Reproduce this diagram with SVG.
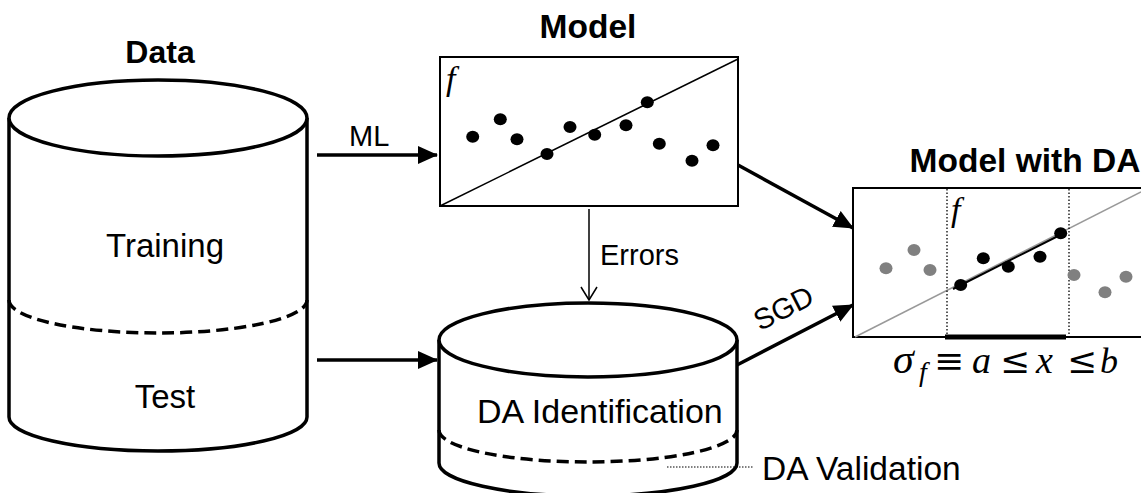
<svg xmlns="http://www.w3.org/2000/svg" width="1141" height="493" viewBox="0 0 1141 493">
  <style>
    .title { font-family: "Liberation Sans", Arial, sans-serif; font-weight: bold; font-size: 33.5px; fill: #000; text-anchor: middle; }
    .label { font-family: "Liberation Sans", Arial, sans-serif; font-size: 33px; fill: #000; }
    .small { font-family: "Liberation Sans", Arial, sans-serif; font-size: 29px; fill: #000; }
    .math { font-family: "Liberation Serif", "DejaVu Serif", serif; font-style: italic; font-size: 34px; fill: #000; }
    .mathop { font-family: "DejaVu Serif", serif; font-size: 36px; fill: #000; text-anchor: middle; }
    .cyl { fill: #fff; stroke: #000; stroke-width: 3.5; }
    .cut { fill: none; stroke: #000; stroke-width: 3.5; stroke-dasharray: 12 6; }
    .frame { fill: #fff; stroke: #000; stroke-width: 2; }
    .dot { fill: #000; }
    .dot-grey { fill: #808080; }
    .thick { fill: none; stroke: #000; stroke-width: 3.5; marker-end: url(#head); }
  </style>
  <defs>
    <marker id="head" markerUnits="userSpaceOnUse" markerWidth="20" markerHeight="18" refX="19" refY="9" orient="auto">
      <path d="M0,0 L20,9 L0,18 z" fill="#000"/>
    </marker>
    <marker id="open" markerUnits="userSpaceOnUse" markerWidth="18" markerHeight="18" refX="14" refY="9" orient="auto">
      <path d="M1,1 L14,9 L1,17" fill="none" stroke="#000" stroke-width="1.5"/>
    </marker>
  </defs>

  <!-- Data store: training / test cylinder -->
  <g id="data">
    <text class="title" x="160" y="63" style="font-size:32px">Data</text>
    <path class="cyl" d="M9,118 L9,417 A149,34 0 0 0 307,417 L307,118"/>
    <ellipse class="cyl" cx="158" cy="118" rx="149" ry="38"/>
    <path class="cut" d="M9,300 A149,33 0 0 0 307,300"/>
    <text class="label" x="165" y="257" text-anchor="middle">Training</text>
    <text class="label" x="165" y="408" text-anchor="middle">Test</text>
  </g>

  <!-- Learned model f over the whole input range -->
  <g id="model">
    <text class="title" x="588" y="38">Model</text>
    <rect class="frame" x="440" y="57" width="298" height="149"/>
    <line x1="440" y1="206" x2="738" y2="59" stroke="#000" stroke-width="1.5"/>
    <text class="math" x="446" y="90">f</text>
    <g class="dot">
      <ellipse cx="472.7" cy="136.7" rx="6.5" ry="6"/>
      <ellipse cx="500.3" cy="119.3" rx="6.5" ry="6"/>
      <ellipse cx="517" cy="139.3" rx="6.5" ry="6"/>
      <ellipse cx="547" cy="154" rx="6.5" ry="6"/>
      <ellipse cx="570" cy="127" rx="6.5" ry="6"/>
      <ellipse cx="594.7" cy="134.7" rx="6.5" ry="6"/>
      <ellipse cx="626" cy="125.3" rx="6.5" ry="6"/>
      <ellipse cx="647.3" cy="102.3" rx="6.5" ry="6"/>
      <ellipse cx="659.3" cy="143.7" rx="6.5" ry="6"/>
      <ellipse cx="692" cy="160.7" rx="6.5" ry="6"/>
      <ellipse cx="713" cy="145.3" rx="6.5" ry="6"/>
    </g>
  </g>

  <!-- DA identification / validation cylinder -->
  <g id="da-store">
    <path class="cyl" d="M439,340 L439,463 A149,33 0 0 0 737,463 L737,340"/>
    <ellipse class="cyl" cx="588" cy="340" rx="149" ry="37"/>
    <path class="cut" d="M439,430 A149,32 0 0 0 737,430"/>
    <text class="label" x="477" y="423" style="font-size:34px">DA Identification</text>
    <line x1="667" y1="467" x2="753" y2="467" stroke="#000" stroke-width="1.2" stroke-dasharray="1.5 1.5"/>
    <text class="label" x="762" y="480" style="font-size:33.5px">DA Validation</text>
  </g>

  <!-- Model restricted to its domain of applicability -->
  <g id="model-da">
    <text class="title" x="1025" y="172">Model with DA</text>
    <path d="M1142,188 L853,188 L853,337 L1142,337" fill="#fff" stroke="#000" stroke-width="2"/>
    <line x1="855" y1="337" x2="1141" y2="192" stroke="#999" stroke-width="1.5"/>
    <line x1="947" y1="189" x2="947" y2="336" stroke="#000" stroke-width="1.3" stroke-dasharray="1.5 2"/>
    <line x1="1069" y1="189" x2="1069" y2="336" stroke="#000" stroke-width="1.3" stroke-dasharray="1.5 2"/>
    <line x1="953" y1="289" x2="1066" y2="232" stroke="#000" stroke-width="2"/>
    <line x1="945" y1="337" x2="1066" y2="337" stroke="#000" stroke-width="5"/>
    <text class="math" x="951" y="221">f</text>
    <g class="dot-grey">
      <ellipse cx="886" cy="268.3" rx="6.5" ry="6"/>
      <ellipse cx="914" cy="250" rx="6.5" ry="6"/>
      <ellipse cx="930" cy="270" rx="6.5" ry="6"/>
      <ellipse cx="1074" cy="275" rx="6.5" ry="6"/>
      <ellipse cx="1105" cy="292.3" rx="6.5" ry="6"/>
      <ellipse cx="1126" cy="276.7" rx="6.5" ry="6"/>
    </g>
    <g class="dot">
      <ellipse cx="960.7" cy="285" rx="6.5" ry="6"/>
      <ellipse cx="983.3" cy="258.3" rx="6.5" ry="6"/>
      <ellipse cx="1008.3" cy="266.7" rx="6.5" ry="6"/>
      <ellipse cx="1040" cy="256.7" rx="6.5" ry="6"/>
      <ellipse cx="1060.7" cy="233.3" rx="6.5" ry="6"/>
    </g>
    <!-- sigma_f = a <= x <= b -->
    <text class="math" x="893" y="373" style="font-size:42px">σ</text>
    <text class="math" x="919" y="381" style="font-size:28px">f</text>
    <text class="mathop" x="949" y="373">≡</text>
    <text class="math" x="972" y="373" style="font-size:38px">a</text>
    <text class="mathop" x="1015" y="373">≤</text>
    <text class="math" x="1036" y="373" style="font-size:38px">x</text>
    <text class="mathop" x="1082" y="373">≤</text>
    <text class="math" x="1100" y="373" style="font-size:36px">b</text>
  </g>

  <!-- Connectors -->
  <g id="connectors">
    <line class="thick" x1="317" y1="155" x2="437" y2="155"/>
    <line class="thick" x1="317" y1="360" x2="437" y2="360"/>
    <line x1="589" y1="209" x2="589" y2="300" stroke="#000" stroke-width="1.5" marker-end="url(#open)"/>
    <line class="thick" x1="738" y1="165" x2="853" y2="228"/>
    <line class="thick" x1="737" y1="365" x2="853" y2="305"/>
    <text class="small" x="349" y="146">ML</text>
    <text class="small" x="600" y="265">Errors</text>
    <text class="small" x="788" y="317" text-anchor="middle" transform="rotate(-27 788 317)">SGD</text>
  </g>
</svg>
